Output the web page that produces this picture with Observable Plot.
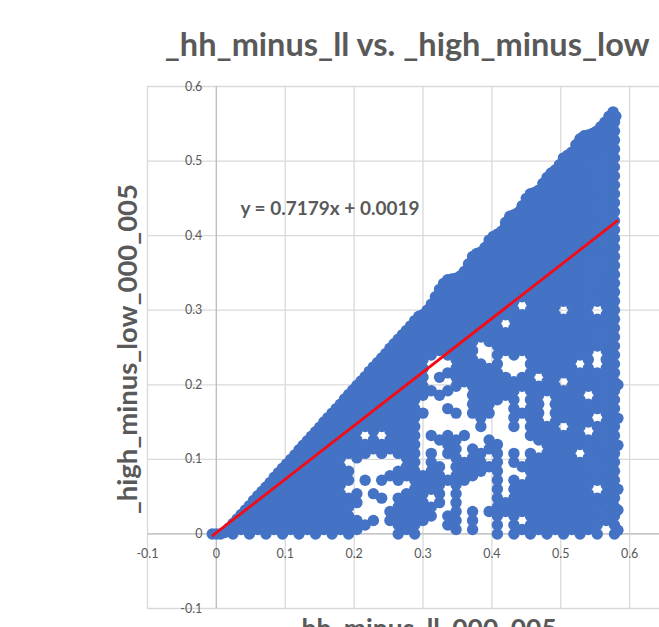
<!DOCTYPE html>
<html>
<head>
<meta charset="utf-8">
<script src="https://cdn.jsdelivr.net/npm/d3@7"></script>
<script src="https://cdn.jsdelivr.net/npm/@observablehq/plot@0.6"></script>
<style>
html,body{margin:0;padding:0;background:#fff;overflow:hidden}
svg{display:block}
</style>
</head>
<body>
<div id="chart"></div>
<script>
const chartTitle = "_hh_minus_ll vs. _high_minus_low";
const xLabel = "_hh_minus_ll_000_005";
const yLabel = "_high_minus_low_000_005";
const equation = "y = 0.7179x + 0.0019";
const xTicks = [-0.1,0,0.1,0.2,0.3,0.4,0.5,0.6];
const xGrid = [-0.1,0,0.1,0.2,0.3,0.4,0.5,0.6,0.7];
const yTicks = [-0.1,0,0.1,0.2,0.3,0.4,0.5,0.6];
const trendX = [-0.005,0.582];
const trendY = [-0.002,0.4197];

// upper edge of the cloud, thousandths
const edgeX = [6,12,18,24,30,36,42,48,54,60,66,72,78,84,90,96,102,108,114,120,126,132,138,144,150,156,162,168,174,180,186,192,198,204,210,216,222,228,234,240,246,252,258,264,270,276,282,288,294,300,306,312,318,324,330,336,342,348,354,360,366,372,378,384,390,396,402,408,414,420,426,432,438,444,450,456,462,468,474,480,486,492,498,504,510,516,522,528,534,540,546,552,558,564,570,576,580];
const edgeY = [0,2,8,14,20,26,32,38,45,51,57,63,69,76,82,88,94,100,106,113,119,125,131,137,143,150,156,162,168,174,181,187,193,199,205,211,218,224,230,236,242,249,255,261,267,273,279,286,292,294,300,308,318,328,336,341,342,343,346,352,362,372,376,378,384,394,399,402,406,418,426,428,431,440,450,456,458,461,470,478,484,488,495,504,508,512,522,530,534,535,537,540,546,552,560,566,560];

// body of the cloud, one x per column, its y values in thousandths
const columnX = [-6,0,24,36,48,60,72,84,96,108,120,132,144,156,168,180,192,204,216,228,240,252,264,276,288,300,312,324,336,348,360,372,384,396,408,420,432,444,456,468,480,492,504,516,528,540,553,566,578,583];
const columnY = [
[0],
[0],
[0,12],
[6,18],
[0,12,24,36],
[6,18,30,42],
[0,12,24,36,48,60],
[6,18,30,42,54,66],
[0,12,24,36,48,60,72,84],
[6,18,30,42,54,66,78,90],
[0,12,24,36,48,60,72,84,96,108],
[6,18,30,42,54,66,78,90,102,114],
[0,12,24,36,48,60,72,84,96,108,120,132],
[6,18,30,42,54,66,78,90,102,114,126,138],
[0,12,24,36,48,60,72,84,96,108,120,132,144,156],
[6,18,30,42,54,66,78,90,102,114,126,138,150,162],
[0,12,24,36,48,72,84,108,120,132,144,156,168,180],
[6,18,42,54,102,114,126,138,150,162,174,186,198],
[12,72,108,120,144,156,168,180,192,204],
[18,54,114,126,138,150,162,174,186,198,210,222],
[48,72,108,120,144,156,168,180,192,204,216,228],
[18,30,78,114,126,138,150,162,174,186,198,210,222,234,246],
[0,12,24,36,48,72,84,108,120,132,144,156,168,180,192,204,216,228,240,252],
[6,18,30,42,54,78,90,102,114,126,138,150,162,174,186,198,210,222,234,246,258,270],
[0,12,24,36,48,60,72,84,96,108,120,132,144,156,168,180,192,204,216,228,240,252,264,276],
[18,30,42,54,66,78,162,186,198,210,222,234,246,258,270,282,294],
[24,36,60,72,84,96,108,132,192,240,252,264,276,288,300],
[42,54,66,78,90,126,186,210,246,258,270,282,294,306,318],
[12,24,72,108,120,132,168,192,216,240,252,264,276,288,300,312,324,336],
[6,18,30,42,54,66,78,90,102,114,126,162,198,210,222,234,246,258,270,282,294,306,318,330,342],
[72,84,96,132,204,216,228,240,252,264,276,288,300,312,324,336,348],
[6,18,30,78,90,102,114,162,174,186,198,210,222,234,246,258,270,282,294,306,318,330,342,354,366],
[84,96,108,144,156,168,180,192,204,216,228,264,276,288,300,312,324,336,348,360,372],
[30,90,114,126,162,174,186,198,210,222,258,270,282,294,306,318,330,342,354,366,378,390],
[0,12,24,36,48,60,72,84,96,108,120,180,192,204,216,228,240,252,264,276,288,300,312,324,336,348,360,372,384,396],
[30,42,186,198,210,246,258,270,294,306,318,330,342,354,366,378,390,402,414],
[0,12,24,36,48,60,72,96,108,144,156,168,180,192,204,240,252,264,276,288,300,312,324,336,348,360,372,384,396,408,420],
[6,30,42,54,66,90,162,198,210,246,258,270,282,294,318,330,342,354,366,378,390,402,414,426,438],
[0,12,24,36,48,60,72,84,96,108,132,144,156,168,180,192,204,216,228,240,252,264,276,288,300,312,324,336,348,360,372,384,396,408,420,432,444,456],
[6,18,30,42,54,66,78,90,102,126,138,150,162,174,186,198,222,234,246,258,270,282,294,306,318,330,342,354,366,378,390,402,414,426,438,450],
[0,12,24,36,48,60,72,84,96,108,120,132,144,192,204,216,228,240,252,264,276,288,300,312,324,336,348,360,372,384,396,408,420,432,444,456,468],
[6,18,30,42,54,66,78,90,102,114,126,138,150,162,174,186,198,210,222,234,246,258,270,282,294,306,318,330,342,354,366,378,390,402,414,426,438,450,462,474,486],
[0,12,24,36,48,60,72,84,96,108,120,132,156,168,180,192,216,228,240,252,264,276,288,312,324,336,348,360,372,384,396,408,420,432,444,456,468,480,492,504],
[6,18,30,42,54,66,78,90,102,114,126,138,150,162,174,186,198,210,222,234,246,258,270,282,294,306,318,330,342,354,366,378,390,402,414,426,438,450,462,474,486,498,510],
[0,12,24,36,48,60,72,84,96,120,132,144,156,168,180,192,204,216,240,252,264,276,288,300,312,324,336,348,360,372,384,396,408,420,432,444,456,468,480,492,504,516,528],
[6,18,30,42,54,66,78,90,102,114,126,150,162,174,198,210,222,234,246,258,270,282,294,306,318,330,342,354,366,378,390,402,414,426,438,450,462,474,486,498,510,522,534],
[0,12,24,36,48,72,84,96,108,120,132,144,168,180,192,204,216,252,264,276,288,312,324,336,348,360,372,384,396,408,420,432,444,456,468,480,492,504,516,528,540],
[18,30,42,54,66,78,90,102,114,126,138,150,162,174,186,198,210,222,234,246,258,270,282,294,306,318,330,342,354,366,378,390,402,414,426,438,450,462,474,486,498,510,522,534,546],
[0,12,24,36,48,60,72,84,96,108,120,132,144,156,168,180,192,204,216,228,240,252,264,276,288,300,312,324,336,348,360,372,384,396,408,420,432,444,456,468,480,492,504,516,528,540,552],
[5,32,60,119,155,200]
];

const pointsFromColumns = columnX.flatMap((x, i) => columnY[i].map(y => ({x: x / 1000, y: y / 1000})));
const pointsFromEdge = edgeX.map((x, i) => ({x: x / 1000, y: edgeY[i] / 1000}));
const points = pointsFromColumns.concat(pointsFromEdge);
const trend = trendX.map((x, i) => ({x, y: trendY[i]}));

const FONT = "Lato, 'Open Sans', sans-serif";
const INK = "#595959";

const plot = Plot.plot({
  width: 659,
  height: 627,
  marginLeft: 147,
  marginRight: -39,
  marginTop: 86,
  marginBottom: 19,
  style: {fontFamily: FONT, background: "#fff"},
  x: {domain: [-0.1, 0.7], axis: null},
  y: {domain: [-0.1, 0.6], axis: null},
  marks: [
    Plot.gridX(xGrid, {stroke: "#d9d9d9", strokeOpacity: 1, strokeWidth: 1.3}),
    Plot.gridY(yTicks, {stroke: "#d9d9d9", strokeOpacity: 1, strokeWidth: 1.3}),
    Plot.ruleX([0], {stroke: "#bfbfbf", strokeWidth: 1.3}),
    Plot.ruleY([0], {stroke: "#bfbfbf", strokeWidth: 1.3}),
    Plot.dot(points, {x: "x", y: "y", r: 5.7, fill: "#4472c4", stroke: "none"}),
    Plot.line(trend, {x: "x", y: "y", stroke: "#f40b16", strokeWidth: 2.8}),
    Plot.text(xTicks, {x: d => d, y: () => 0, dy: 20, text: d => String(d), fill: INK, fontSize: 12.5}),
    Plot.text(yTicks, {x: () => 0, y: d => d, dx: -14, textAnchor: "end", text: d => String(d), fill: INK, fontSize: 12.5}),
    Plot.text([equation], {x: () => 0.165, y: () => 0.436, text: d => d, fill: INK, fontSize: 19, fontWeight: 700}),
    Plot.text([chartTitle], {x: () => 0.277, y: () => 0.655, text: d => d, fill: INK, fontSize: 32.5, fontWeight: 700}),
    Plot.text([yLabel], {x: () => -0.128, y: () => 0.248, text: d => d, fill: INK, fontSize: 27.5, fontWeight: 700, rotate: -90}),
    Plot.text([xLabel], {x: () => 0.3, y: () => -0.128, text: d => d, fill: INK, fontSize: 26.5, fontWeight: 700})
  ]
});
document.getElementById("chart").appendChild(plot);
</script>
</body>
</html>
